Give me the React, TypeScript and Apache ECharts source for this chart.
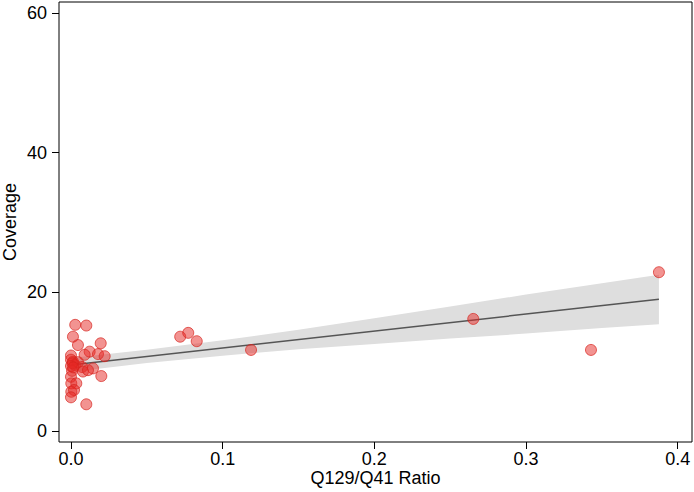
import React, { useEffect, useRef } from "react";
import * as echarts from "echarts";

const ratio = [
  0.0028, 0.0101, 0.0013, 0.0046, 0.0196, 0.0, 0.0123, 0.0178, 0.0222, 0.009,
  0.0013, 0.0, 0.0026, 0.0, 0.0046, 0.0073, 0.0145, 0.0079, 0.0112, 0.02,
  0.0, 0.0002, 0.0035, 0.0002, 0.002, 0.0, 0.0101, 0.0007, 0.001, 0.0015,
  0.072, 0.0773, 0.0829, 0.1187, 0.2652, 0.3428, 0.3876,
];
const coverage = [
  15.3, 15.2, 13.6, 12.4, 12.65, 10.9, 11.45, 11.1, 10.8, 11.0,
  10.0, 10.3, 9.55, 9.4, 9.95, 9.25, 9.05, 8.6, 8.8, 7.95,
  7.85, 6.9, 6.9, 5.7, 5.95, 4.9, 3.9, 8.7, 9.8, 9.2,
  13.6, 14.15, 12.95, 11.7, 16.15, 11.7, 22.85,
];

const fitX = [0, 0.3876];
const fitY = [9.55, 18.97];

const bandX = [0, 0.05, 0.1, 0.15, 0.2, 0.25, 0.3, 0.35, 0.3876];
const bandLower = [8.55, 9.82, 10.88, 11.8, 12.56, 13.33, 14.04, 14.86, 15.4];
const bandUpper = [10.55, 11.72, 13.08, 14.6, 16.26, 17.93, 19.64, 21.26, 22.5];

const xTicks = [0, 0.1, 0.2, 0.3, 0.4];
const yTicks = [0, 20, 40, 60];

const FONT = "'Liberation Sans', Arial, Helvetica, sans-serif";

export default function App() {
  const ref = useRef<HTMLDivElement>(null);
  useEffect(() => {
    if (!ref.current) return;
    const chart = echarts.init(ref.current, undefined, { renderer: "svg" });
    const points = ratio.map((r, i) => [r, coverage[i]]);
    const option = {
      animation: false,
      backgroundColor: "#ffffff",
      grid: {
        left: 59,
        top: 2,
        right: 2,
        bottom: 50,
        containLabel: false,
        outerBoundsMode: "none",
        show: true,
        borderColor: "#000",
        borderWidth: 1,
        backgroundColor: "transparent",
      },
      xAxis: {
        type: "value",
        min: -0.0079,
        max: 0.4094,
        name: "Q129/Q41 Ratio",
        nameLocation: "middle",
        nameGap: 27,
        nameMoveOverlap: false,
        nameTextStyle: { fontFamily: FONT, fontSize: 18, color: "#000" },
        axisLine: { show: false, onZero: false },
        splitLine: { show: false },
        axisTick: {
          show: true,
          inside: false,
          length: 7,
          lineStyle: { color: "#000", width: 1 },
          customValues: xTicks,
        },
        axisLabel: {
          fontFamily: FONT,
          fontSize: 18,
          color: "#000",
          margin: 8,
          customValues: xTicks,
          formatter: (v: number) => v.toFixed(1),
        },
      },
      yAxis: {
        type: "value",
        min: -1.51,
        max: 61.62,
        name: "Coverage",
        nameLocation: "middle",
        nameGap: 40,
        nameMoveOverlap: false,
        nameTextStyle: { fontFamily: FONT, fontSize: 18, color: "#000" },
        axisLine: { show: false, onZero: false },
        splitLine: { show: false },
        axisTick: {
          show: true,
          inside: false,
          length: 7,
          lineStyle: { color: "#000", width: 1 },
          customValues: yTicks,
        },
        axisLabel: {
          fontFamily: FONT,
          fontSize: 18,
          color: "#000",
          margin: 12,
          customValues: yTicks,
        },
      },
      series: [
        {
          type: "custom",
          data: [[0, 0]],
          silent: true,
          z: 1,
          renderItem: (params: any, api: any) => {
            const pts: number[][] = [];
            for (let i = 0; i < bandX.length; i++) pts.push(api.coord([bandX[i], bandUpper[i]]));
            for (let i = bandX.length - 1; i >= 0; i--) pts.push(api.coord([bandX[i], bandLower[i]]));
            return {
              type: "polygon",
              shape: { points: pts },
              style: { fill: "#DEDEDE", stroke: "none" },
            };
          },
        },
        {
          type: "line",
          data: fitX.map((x, i) => [x, fitY[i]]),
          symbol: "none",
          z: 2,
          lineStyle: { color: "#555555", width: 1.5 },
        },
        {
          type: "scatter",
          data: points,
          symbolSize: 11,
          z: 3,
          itemStyle: {
            color: "rgba(230,40,36,0.5)",
            borderColor: "rgba(215,35,30,0.7)",
            borderWidth: 1,
            opacity: 1,
          },
        },
      ],
    };
    chart.setOption(option as any);
    return () => chart.dispose();
  }, []);
  return (
    <div
      ref={ref}
      style={{ position: "fixed", left: 0, top: 0, width: 694, height: 492, background: "#fff" }}
    />
  );
}
